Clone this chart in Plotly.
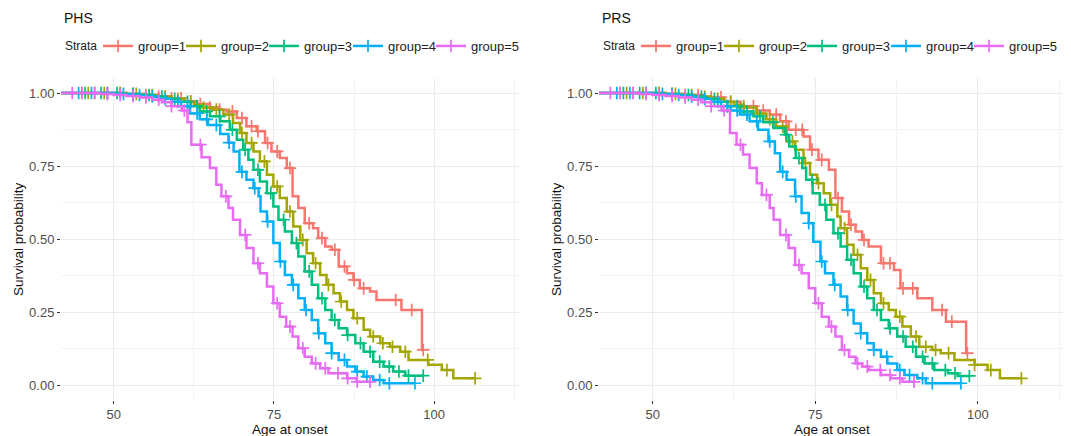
import plotly.graph_objects as go

COLORS = ["#F8766D", "#A3A500", "#00BF7D", "#00B0F6", "#E76BF3"]
GROUPS = ["group=1", "group=2", "group=3", "group=4", "group=5"]
START_AGE = 41.0

# ---------------- PHS (left panel) ----------------
phs_t1 = [52, 55, 57, 59, 61, 63, 65, 66.5, 67.6, 69.2, 70.7, 72.3, 73.6, 74.6, 75.9, 77.0, 77.9, 78.8, 79.8, 81.1, 81.9, 83.0, 84.0, 85.1, 86.4, 87.4, 88.4, 90.0, 91.0, 94.9, 98.1]
phs_s1 = [0.997, 0.993, 0.988, 0.982, 0.972, 0.962, 0.95, 0.943, 0.937, 0.914, 0.886, 0.869, 0.829, 0.80, 0.777, 0.743, 0.646, 0.606, 0.554, 0.537, 0.503, 0.474, 0.463, 0.406, 0.383, 0.36, 0.331, 0.32, 0.291, 0.257, 0.12]
phs_e1 = 98.3
phs_c1 = [45, 47, 49, 51, 53, 55, 57, 59, 60.5, 62, 63.5, 65, 66.5, 68.5, 70, 71.5, 72.5, 74, 75.5, 77.5, 80.5, 82.5, 84.5, 86, 87.5, 89, 94, 96.5, 98.3]

phs_t2 = [52, 55, 57, 59, 61, 62.5, 64, 65.5, 67.1, 68.6, 69.7, 70.7, 71.8, 72.8, 73.9, 74.9, 75.9, 77.0, 78.0, 79.1, 80.1, 81.1, 82.2, 83.2, 84.3, 85.3, 86.4, 87.4, 89.0, 90.0, 91.6, 93.1, 94.7, 96.0, 99.1, 101.2, 103.0]
phs_s2 = [0.997, 0.993, 0.988, 0.98, 0.97, 0.96, 0.95, 0.943, 0.926, 0.897, 0.863, 0.829, 0.80, 0.766, 0.72, 0.68, 0.64, 0.594, 0.543, 0.497, 0.451, 0.417, 0.377, 0.343, 0.314, 0.286, 0.257, 0.229, 0.189, 0.166, 0.143, 0.131, 0.114, 0.086, 0.069, 0.051, 0.023]
phs_e2 = 106.4
phs_c2 = [46, 48.5, 51, 53.5, 56, 58, 60, 62, 64, 66, 68, 70, 71.5, 73.5, 75.5, 77.5, 79.5, 81.5, 83.5, 85.5, 88, 90.5, 92, 93.5, 95.5, 99, 102, 106.4]

phs_t3 = [51, 54, 56, 58, 60, 62, 63.4, 65.0, 66.6, 68.1, 69.2, 70.2, 71.0, 71.8, 72.8, 73.9, 74.9, 75.7, 76.7, 77.8, 78.8, 79.8, 80.9, 81.9, 83.0, 84.0, 85.1, 86.4, 87.7, 89.0, 90.5, 92.1, 93.6, 95.5]
phs_s3 = [0.997, 0.993, 0.988, 0.98, 0.97, 0.955, 0.937, 0.92, 0.903, 0.874, 0.84, 0.806, 0.771, 0.737, 0.697, 0.657, 0.611, 0.566, 0.526, 0.486, 0.44, 0.389, 0.343, 0.297, 0.257, 0.223, 0.194, 0.171, 0.143, 0.114, 0.08, 0.063, 0.046, 0.032]
phs_e3 = 98.3
phs_c3 = [45.5, 48, 50.5, 53, 55.5, 57.5, 59.5, 61.5, 63, 64.5, 66.5, 68.5, 70.5, 72.5, 74.5, 76.5, 78.5, 80.5, 82.5, 84.5, 86.5, 88.5, 90, 91.5, 93, 94.5, 96, 98.3]

phs_t4 = [50, 53, 55, 57, 59, 60.5, 61.9, 63.4, 64.7, 66.6, 67.9, 68.7, 69.6, 70.7, 71.8, 72.6, 72.9, 73.9, 74.9, 75.9, 76.7, 77.8, 78.8, 79.8, 80.9, 81.9, 83.0, 84.0, 85.1, 86.4, 87.7, 89.0, 90.5, 92.1]
phs_s4 = [0.997, 0.993, 0.988, 0.98, 0.97, 0.955, 0.93, 0.91, 0.89, 0.86, 0.83, 0.80, 0.73, 0.703, 0.674, 0.646, 0.594, 0.56, 0.486, 0.423, 0.377, 0.343, 0.297, 0.257, 0.223, 0.177, 0.143, 0.109, 0.086, 0.063, 0.046, 0.029, 0.017, 0.006]
phs_e4 = 97.0
phs_c4 = [44.5, 46.5, 49, 51.5, 54, 56, 58, 60, 61.5, 63, 64.5, 66, 68, 70, 72, 74, 76, 78, 80, 82, 84, 86, 88, 89.5, 91.5, 93, 97]

phs_t5 = [48, 50, 52, 54, 56, 57.5, 59, 60.6, 61.5, 62.1, 63.7, 65.0, 66.0, 66.8, 67.9, 68.6, 69.7, 70.7, 71.8, 72.8, 73.9, 74.9, 75.9, 76.9, 77.9, 78.8, 79.8, 80.9, 82.2, 83.5, 86.4, 87.9]
phs_s5 = [0.997, 0.993, 0.99, 0.985, 0.977, 0.968, 0.955, 0.94, 0.90, 0.823, 0.78, 0.743, 0.686, 0.646, 0.606, 0.566, 0.514, 0.469, 0.417, 0.383, 0.337, 0.28, 0.234, 0.20, 0.166, 0.126, 0.097, 0.074, 0.057, 0.04, 0.023, 0.011]
phs_e5 = 90.0
phs_c5 = [43.5, 45, 47, 49, 51, 53, 55, 57, 59, 61, 63.5, 67.5, 70.5, 72.5, 75.5, 77.5, 79.5, 81.5, 83, 85, 86.5, 88, 90]

# ---------------- PRS (right panel) ----------------
prs_t1 = [52, 55, 58, 61, 63.5, 66, 68.0, 69.6, 70.9, 73.2, 74.2, 75.5, 77.1, 78.1, 79.1, 80.2, 81.2, 82.2, 83.2, 85.1, 87.1, 88.1, 90.7, 93.0, 95.1, 98.2]
prs_s1 = [0.997, 0.993, 0.985, 0.97, 0.955, 0.94, 0.926, 0.903, 0.874, 0.851, 0.806, 0.771, 0.737, 0.64, 0.594, 0.549, 0.526, 0.497, 0.474, 0.417, 0.394, 0.331, 0.297, 0.257, 0.217, 0.109]
prs_e1 = 98.4
prs_c1 = [45, 47, 49, 51, 53, 55, 57, 59, 60.5, 62, 64, 65.5, 67, 69, 70.5, 72, 73, 74.5, 76, 78.5, 80.5, 82.5, 85.5, 86.5, 88.5, 90, 94.5, 96, 98.4]

prs_t2 = [52, 55, 57, 59, 61, 62.5, 64, 66, 67.5, 69, 70.6, 71.9, 73.2, 74.2, 75.3, 76.3, 77.3, 78.4, 78.9, 79.9, 80.9, 82.0, 83.0, 84.0, 85.1, 86.3, 87.4, 88.4, 89.7, 91.0, 93.0, 94.3, 96.4, 99.5, 101.5, 103.4]
prs_s2 = [0.997, 0.993, 0.988, 0.98, 0.97, 0.96, 0.95, 0.93, 0.91, 0.885, 0.834, 0.806, 0.76, 0.72, 0.691, 0.657, 0.617, 0.577, 0.537, 0.48, 0.446, 0.40, 0.36, 0.314, 0.28, 0.257, 0.234, 0.20, 0.166, 0.131, 0.12, 0.109, 0.086, 0.069, 0.051, 0.023]
prs_e2 = 106.7
prs_c2 = [46, 48.5, 51, 53.5, 56, 58, 60, 62, 64, 66, 68, 70, 71.5, 73.5, 75.5, 77.5, 79.5, 81.5, 83.5, 85.5, 88, 90.5, 92, 93.5, 95.5, 99.5, 102, 106.7]

prs_t3 = [51, 54, 56, 58, 60, 61.5, 63.5, 65.5, 67, 68.6, 70.3, 71.0, 72.0, 73.0, 73.6, 74.6, 75.7, 76.7, 77.8, 78.9, 79.9, 80.9, 82.0, 83.0, 84.0, 85.1, 86.3, 87.6, 88.9, 90.5, 91.8, 93.3, 95.4, 96.9]
prs_s3 = [0.997, 0.993, 0.988, 0.98, 0.97, 0.955, 0.937, 0.92, 0.90, 0.88, 0.857, 0.817, 0.777, 0.743, 0.703, 0.657, 0.617, 0.566, 0.52, 0.474, 0.429, 0.383, 0.337, 0.297, 0.257, 0.223, 0.194, 0.166, 0.131, 0.097, 0.074, 0.051, 0.04, 0.031]
prs_e3 = 98.7
prs_c3 = [45.5, 48, 50.5, 53, 55.5, 57.5, 59.5, 61.5, 63, 64.5, 66.5, 68.5, 70.5, 72.5, 74.5, 76.5, 78.5, 80.5, 82.5, 84.5, 86.5, 88.5, 90, 91.5, 93, 95, 96.5, 98.7]

prs_t4 = [50, 53, 55, 57, 59, 60.5, 62, 63.4, 64.9, 66.2, 67.8, 68.8, 69.6, 70.6, 71.9, 72.9, 74.0, 74.7, 75.8, 76.5, 77.8, 78.9, 79.9, 80.9, 82.0, 83.0, 84.0, 85.1, 86.1, 87.6, 88.7, 90.7, 92.0]
prs_s4 = [0.997, 0.993, 0.988, 0.98, 0.97, 0.955, 0.94, 0.926, 0.903, 0.874, 0.834, 0.794, 0.73, 0.703, 0.646, 0.589, 0.554, 0.491, 0.423, 0.383, 0.343, 0.303, 0.257, 0.211, 0.177, 0.143, 0.12, 0.097, 0.074, 0.051, 0.034, 0.023, 0.006]
prs_e4 = 97.4
prs_c4 = [44.5, 46.5, 49, 51.5, 54, 56, 58, 60, 61.5, 63, 64.5, 66, 68, 70, 72, 74, 76, 78, 80, 82, 84, 86, 88, 89.5, 91.5, 93, 97.4]

prs_t5 = [48, 50, 52, 54, 56, 57.5, 59, 60.6, 61.9, 62.9, 63.9, 64.9, 66.0, 66.8, 68.0, 68.6, 69.6, 70.9, 71.9, 72.9, 74.0, 75.0, 76.0, 77.1, 78.1, 79.1, 80.2, 81.2, 82.2, 83.2, 85.1, 86.6, 88.4]
prs_s5 = [0.997, 0.993, 0.99, 0.985, 0.977, 0.968, 0.955, 0.94, 0.863, 0.823, 0.789, 0.743, 0.691, 0.651, 0.606, 0.566, 0.514, 0.469, 0.411, 0.383, 0.331, 0.28, 0.234, 0.20, 0.166, 0.12, 0.097, 0.074, 0.063, 0.051, 0.034, 0.023, 0.011]
prs_e5 = 90.2
prs_c5 = [43.5, 45, 47, 49, 51, 53, 55, 57, 59, 61, 63.5, 67.5, 70.5, 72.5, 75.5, 77.5, 79.5, 81.5, 83, 85, 86.5, 88, 90.2]

PANELS = [
    ("PHS", [(phs_t1, phs_s1, phs_e1, phs_c1), (phs_t2, phs_s2, phs_e2, phs_c2),
             (phs_t3, phs_s3, phs_e3, phs_c3), (phs_t4, phs_s4, phs_e4, phs_c4),
             (phs_t5, phs_s5, phs_e5, phs_c5)]),
    ("PRS", [(prs_t1, prs_s1, prs_e1, prs_c1), (prs_t2, prs_s2, prs_e2, prs_c2),
             (prs_t3, prs_s3, prs_e3, prs_c3), (prs_t4, prs_s4, prs_e4, prs_c4),
             (prs_t5, prs_s5, prs_e5, prs_c5)]),
]

X_RANGE = [41.75, 113.25]
Y_RANGE = [-0.05, 1.05]
X_TICKS = [50, 75, 100]
Y_TICKS = [0.0, 0.25, 0.5, 0.75, 1.0]
Y_TICKTEXT = ["0.00", "0.25", "0.50", "0.75", "1.00"]


def surv_at(times, survs, age):
    s = 1.0
    for t, v in zip(times, survs):
        if t <= age:
            s = v
        else:
            break
    return s


# page offset (browser body margin) compensation
OFF = 8
W, H = 1071 - OFF, 436 - OFF


def px(x):
    return (x - OFF) / W


def py(y):
    return 1 - (y - OFF) / H


x_domains = [[px(61), px(519)], [px(599), px(1064)]]
y_domain = [py(399.6), py(78.4)]
PANEL_SHIFT = [0, 538]          # horizontal offset of the right panel's header
LEGEND_TEXT_X = [138, 221, 304, 388, 471]   # where each legend label starts (left panel)

fig = go.Figure()
FONT = "Liberation Sans, Arial, sans-serif"
LW = 2.5

legend_layout = {}
for p, (name, groups) in enumerate(PANELS):
    xa = "x" if p == 0 else "x2"
    ya = "y" if p == 0 else "y2"
    for g, (times, survs, end, cens) in enumerate(groups):
        col = COLORS[g]
        xs = [START_AGE] + list(times) + [end]
        ys = [1.0] + list(survs) + [survs[-1]]
        fig.add_trace(go.Scatter(x=xs, y=ys, mode="lines", line=dict(color=col, width=LW, shape="hv"),
                                 xaxis=xa, yaxis=ya, showlegend=False, hoverinfo="skip"))
        cy = [surv_at(times, survs, c) for c in cens]
        fig.add_trace(go.Scatter(x=cens, y=cy, mode="markers",
                                 marker=dict(symbol="cross-thin", size=9, line=dict(color=col, width=1.7)),
                                 xaxis=xa, yaxis=ya, showlegend=False, hoverinfo="skip"))
        # legend entry (one small legend per entry so that spacing matches)
        idx = p * 5 + g + 1
        lname = "legend" if idx == 1 else f"legend{idx}"
        fig.add_trace(go.Scatter(x=[None], y=[None], mode="lines+markers", name=GROUPS[g],
                                 line=dict(color=col, width=LW),
                                 marker=dict(symbol="cross-thin", size=9, line=dict(color=col, width=1.7)),
                                 xaxis=xa, yaxis=ya, legend=lname, showlegend=True))
        legend_layout[lname] = dict(
            orientation="h", xanchor="left", yanchor="middle", y=py(46),
            x=px(LEGEND_TEXT_X[g] - 40 + PANEL_SHIFT[p]),
            font=dict(family=FONT, size=13, color="#222222"), itemwidth=30,
            bgcolor="rgba(0,0,0,0)")

axis_common = dict(showline=False, zeroline=False, gridcolor="#EBEBEB", gridwidth=1.1,
                   ticks="outside", ticklen=3, tickcolor="#333333", tickwidth=1,
                   tickfont=dict(family=FONT, size=13, color="#4D4D4D"))
minor_x = dict(dtick=12.5, tick0=0, showgrid=True, gridcolor="#F3F3F3", gridwidth=0.7, ticks="")
minor_y = dict(dtick=0.125, tick0=0, showgrid=True, gridcolor="#F3F3F3", gridwidth=0.7, ticks="")

fig.update_layout(
    width=W, height=H,
    margin=dict(l=0, r=0, t=0, b=0),
    paper_bgcolor="white", plot_bgcolor="white",
    font=dict(family=FONT),
    xaxis=dict(domain=x_domains[0], range=X_RANGE, tickvals=X_TICKS, anchor="y", minor=minor_x, **axis_common),
    yaxis=dict(domain=y_domain, range=Y_RANGE, tickvals=Y_TICKS, ticktext=Y_TICKTEXT, anchor="x",
               minor=minor_y, **axis_common),
    xaxis2=dict(domain=x_domains[1], range=X_RANGE, tickvals=X_TICKS, anchor="y2", minor=minor_x, **axis_common),
    yaxis2=dict(domain=y_domain, range=Y_RANGE, tickvals=Y_TICKS, ticktext=Y_TICKTEXT, anchor="x2",
                minor=minor_y, **axis_common),
    **legend_layout,
)

ann = []
for p, (name, _) in enumerate(PANELS):
    ann.append(dict(text=name, x=px(62 + PANEL_SHIFT[p]), y=py(18), xref="paper", yref="paper",
                    xanchor="left", yanchor="middle", showarrow=False,
                    font=dict(family=FONT, size=14, color="#111111")))
    ann.append(dict(text="Strata", x=px(63 + PANEL_SHIFT[p]), y=py(46), xref="paper", yref="paper",
                    xanchor="left", yanchor="middle", showarrow=False,
                    font=dict(family=FONT, size=12, color="#222222")))
    xc = (x_domains[p][0] + x_domains[p][1]) / 2
    ann.append(dict(text="Age at onset", x=xc, y=py(429), xref="paper", yref="paper",
                    xanchor="center", yanchor="middle", showarrow=False,
                    font=dict(family=FONT, size=13.5, color="#111111")))
    ann.append(dict(text="Survival probability", x=px([18, 556][p]), y=(y_domain[0] + y_domain[1]) / 2,
                    xref="paper", yref="paper", xanchor="center", yanchor="middle", showarrow=False,
                    textangle=-90, font=dict(family=FONT, size=13.5, color="#111111")))
fig.update_layout(annotations=ann)

fig.write_html("out.html")
